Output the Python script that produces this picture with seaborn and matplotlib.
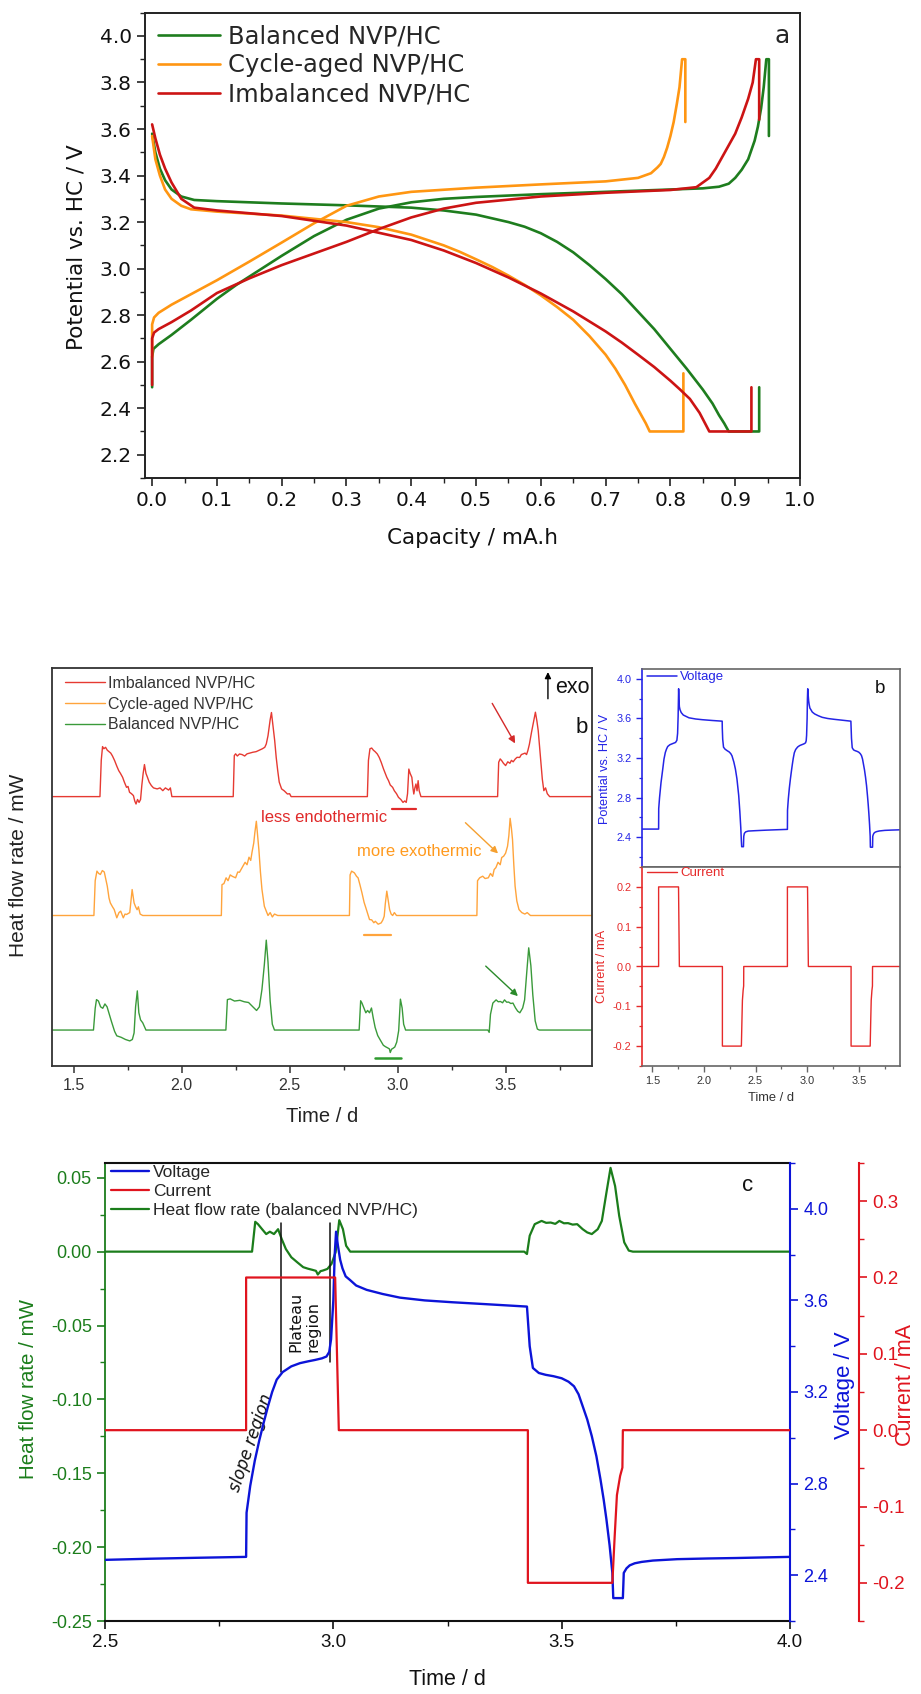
import matplotlib
matplotlib.use("Agg")
import matplotlib.pyplot as plt
from matplotlib.ticker import MultipleLocator, FixedLocator, FormatStrFormatter
import seaborn as sns

# ---------------------------------------------------------------- data
# (a) galvanostatic profiles: (capacity / mA.h, potential vs. HC / V)
balanced_charge = [(0.000, 2.49), (0.000, 2.62), (0.002, 2.655), (0.010, 2.675), (0.030, 2.715),
                   (0.060, 2.78), (0.100, 2.87), (0.130, 2.93), (0.200, 3.055), (0.250, 3.14),
                   (0.300, 3.21), (0.350, 3.258), (0.400, 3.285), (0.450, 3.300), (0.500, 3.308),
                   (0.600, 3.320), (0.700, 3.330), (0.800, 3.340), (0.850, 3.345), (0.875, 3.352),
                   (0.890, 3.365), (0.900, 3.39), (0.910, 3.425), (0.920, 3.47), (0.930, 3.55),
                   (0.935, 3.61), (0.940, 3.69), (0.944, 3.78), (0.948, 3.90), (0.952, 3.90),
                   (0.952, 3.57)]
balanced_discharge = [(0.000, 3.58), (0.005, 3.50), (0.012, 3.43), (0.020, 3.38), (0.030, 3.34),
                      (0.045, 3.31), (0.065, 3.295), (0.100, 3.29), (0.200, 3.28), (0.300, 3.272),
                      (0.400, 3.262), (0.450, 3.25), (0.500, 3.232), (0.550, 3.20), (0.575, 3.18),
                      (0.600, 3.152), (0.625, 3.115), (0.650, 3.07), (0.675, 3.015), (0.700, 2.955),
                      (0.725, 2.89), (0.750, 2.815), (0.775, 2.74), (0.800, 2.655), (0.825, 2.57),
                      (0.850, 2.48), (0.865, 2.42), (0.875, 2.37), (0.883, 2.335), (0.890, 2.30),
                      (0.937, 2.30), (0.937, 2.49)]
aged_charge = [(0.000, 2.62), (0.000, 2.76), (0.003, 2.79), (0.010, 2.81), (0.030, 2.845),
               (0.060, 2.89), (0.100, 2.95), (0.150, 3.03), (0.200, 3.112), (0.250, 3.195),
               (0.300, 3.27), (0.350, 3.31), (0.400, 3.33), (0.500, 3.348), (0.600, 3.362),
               (0.700, 3.375), (0.750, 3.39), (0.770, 3.41), (0.780, 3.435), (0.785, 3.45),
               (0.790, 3.48), (0.795, 3.52), (0.800, 3.57), (0.805, 3.63), (0.810, 3.71),
               (0.814, 3.78), (0.818, 3.90), (0.823, 3.90), (0.823, 3.63)]
aged_discharge = [(0.000, 3.57), (0.005, 3.47), (0.012, 3.40), (0.020, 3.34), (0.030, 3.30),
                  (0.045, 3.27), (0.060, 3.255), (0.100, 3.245), (0.200, 3.228), (0.300, 3.20),
                  (0.350, 3.178), (0.400, 3.146), (0.450, 3.10), (0.475, 3.072), (0.500, 3.04),
                  (0.525, 3.007), (0.550, 2.97), (0.575, 2.93), (0.600, 2.885), (0.625, 2.835),
                  (0.650, 2.78), (0.675, 2.71), (0.700, 2.63), (0.715, 2.57), (0.730, 2.50),
                  (0.745, 2.42), (0.755, 2.37), (0.762, 2.335), (0.768, 2.30), (0.820, 2.30),
                  (0.820, 2.55)]
imbal_charge = [(0.000, 2.50), (0.000, 2.70), (0.003, 2.725), (0.010, 2.74), (0.030, 2.77),
                (0.060, 2.82), (0.100, 2.895), (0.150, 2.958), (0.200, 3.015), (0.300, 3.115),
                (0.350, 3.17), (0.400, 3.22), (0.450, 3.258), (0.500, 3.283), (0.600, 3.31),
                (0.700, 3.326), (0.800, 3.338), (0.840, 3.35), (0.860, 3.39), (0.870, 3.43),
                (0.880, 3.48), (0.890, 3.53), (0.900, 3.58), (0.910, 3.65), (0.920, 3.73),
                (0.927, 3.80), (0.932, 3.90), (0.937, 3.90), (0.937, 3.64)]
imbal_discharge = [(0.000, 3.62), (0.005, 3.56), (0.012, 3.49), (0.020, 3.43), (0.030, 3.37),
                   (0.045, 3.30), (0.065, 3.262), (0.100, 3.25), (0.200, 3.226), (0.300, 3.185),
                   (0.400, 3.123), (0.450, 3.078), (0.500, 3.024), (0.550, 2.962), (0.600, 2.893),
                   (0.650, 2.816), (0.700, 2.73), (0.725, 2.682), (0.750, 2.63), (0.775, 2.577),
                   (0.800, 2.518), (0.815, 2.48), (0.830, 2.44), (0.845, 2.38), (0.860, 2.30),
                   (0.925, 2.30), (0.925, 2.49)]
cell_labels = ["Balanced NVP/HC", "Cycle-aged NVP/HC", "Imbalanced NVP/HC"]

# (b, c) heat flow rate / mW versus time / d
balanced_heat = [(1.400, 0.0), (1.592, 0.0), (1.600, 0.015), (1.606, 0.021), (1.615, 0.020),
                 (1.625, 0.016), (1.635, 0.015), (1.645, 0.018), (1.655, 0.016), (1.665, 0.011),
                 (1.675, 0.006), (1.690, -0.001), (1.700, -0.004), (1.720, -0.005), (1.740, -0.0065),
                 (1.760, -0.0075), (1.772, -0.0065), (1.780, -0.002), (1.787, 0.016), (1.795, 0.027),
                 (1.802, 0.012), (1.810, 0.007), (1.820, 0.005), (1.835, 0.0),
                 (2.205, 0.0), (2.212, 0.021), (2.225, 0.0215), (2.245, 0.020), (2.270, 0.0205),
                 (2.290, 0.0195), (2.310, 0.019), (2.330, 0.016), (2.347, 0.0135), (2.360, 0.016),
                 (2.372, 0.028), (2.383, 0.045), (2.392, 0.062), (2.400, 0.047), (2.410, 0.020),
                 (2.420, 0.004), (2.430, 0.0),
                 (2.822, 0.0), (2.829, 0.0202), (2.835, 0.0186), (2.844, 0.0152), (2.853, 0.0119),
                 (2.861, 0.0135), (2.870, 0.0119), (2.879, 0.0152), (2.887, 0.0085), (2.896, 0.0018),
                 (2.908, -0.0038), (2.921, -0.0072), (2.934, -0.0105), (2.944, -0.0115),
                 (2.954, -0.0123), (2.962, -0.0130), (2.966, -0.0155), (2.972, -0.0132),
                 (2.977, -0.0128), (2.987, -0.0117), (2.996, -0.0083), (3.005, -0.0004),
                 (3.013, 0.0213), (3.021, 0.0152), (3.028, 0.004), (3.037, 0.0),
                 (3.418, 0.0), (3.424, -0.0016), (3.430, 0.0108), (3.441, 0.0186), (3.456, 0.0208),
                 (3.466, 0.0195), (3.476, 0.0197), (3.486, 0.0188), (3.495, 0.0208), (3.505, 0.0192),
                 (3.514, 0.0193), (3.524, 0.0183), (3.534, 0.0186), (3.546, 0.0152), (3.556, 0.013),
                 (3.566, 0.0119), (3.579, 0.0152), (3.588, 0.0208), (3.598, 0.0399), (3.607, 0.0567),
                 (3.617, 0.0444), (3.626, 0.0242), (3.637, 0.0063), (3.647, 0.0007), (3.656, 0.0),
                 (4.000, 0.0)]
aged_heat = [(1.400, 0.0), (1.594, 0.0), (1.600, 0.024), (1.608, 0.0306), (1.616, 0.029),
             (1.624, 0.0283), (1.633, 0.031), (1.642, 0.030), (1.656, 0.0202), (1.664, 0.012),
             (1.670, 0.0087), (1.680, 0.006), (1.688, 0.0041), (1.700, -0.0016), (1.710, 0.002),
             (1.718, 0.003), (1.730, -0.0016), (1.738, 0.001), (1.745, 0.0007), (1.760, 0.002),
             (1.771, 0.0179), (1.780, 0.0087), (1.787, 0.006), (1.794, 0.004), (1.800, 0.006),
             (1.808, 0.001), (1.820, 0.0),
             (2.184, 0.0), (2.187, 0.0213), (2.196, 0.022), (2.206, 0.026), (2.215, 0.024),
             (2.225, 0.028), (2.235, 0.027), (2.250, 0.026), (2.260, 0.030), (2.268, 0.0298),
             (2.280, 0.033), (2.294, 0.0367), (2.303, 0.035), (2.312, 0.0402), (2.320, 0.038),
             (2.326, 0.0436), (2.334, 0.050), (2.339, 0.057), (2.346, 0.065), (2.352, 0.055),
             (2.358, 0.045), (2.365, 0.030), (2.372, 0.018), (2.383, 0.0064), (2.392, 0.003),
             (2.400, 0.0), (2.410, 0.002), (2.420, -0.001), (2.430, 0.001), (2.445, 0.0),
             (2.777, 0.0), (2.780, 0.028), (2.787, 0.0306), (2.800, 0.0294), (2.810, 0.027),
             (2.817, 0.026), (2.826, 0.021), (2.835, 0.0156), (2.845, 0.009), (2.853, 0.0053),
             (2.862, 0.001), (2.870, -0.0028), (2.880, -0.003), (2.890, -0.005), (2.897, -0.004),
             (2.910, -0.006), (2.924, -0.0051), (2.932, -0.003), (2.938, -0.0005), (2.943, 0.008),
             (2.950, 0.0168), (2.957, 0.010), (2.963, 0.0041), (2.970, 0.001), (2.977, 0.0),
             (2.985, 0.002), (2.995, 0.0),
             (3.367, 0.0), (3.370, 0.024), (3.380, 0.026), (3.394, 0.0271), (3.405, 0.0255),
             (3.420, 0.026), (3.430, 0.029), (3.440, 0.027), (3.447, 0.0317), (3.455, 0.033),
             (3.465, 0.0367), (3.475, 0.035), (3.482, 0.040), (3.491, 0.0409), (3.500, 0.043),
             (3.509, 0.0478), (3.515, 0.055), (3.521, 0.067), (3.527, 0.060), (3.532, 0.0524),
             (3.538, 0.035), (3.544, 0.0202), (3.552, 0.010), (3.562, 0.0041), (3.575, 0.002),
             (3.589, 0.001), (3.600, 0.002), (3.615, 0.0), (3.900, 0.0)]
imbal_heat = [(1.400, 0.0), (1.622, 0.0), (1.628, 0.025), (1.634, 0.0345), (1.640, 0.033),
              (1.648, 0.034), (1.656, 0.032), (1.664, 0.031), (1.672, 0.030), (1.680, 0.028),
              (1.690, 0.0248), (1.700, 0.021), (1.709, 0.0179), (1.717, 0.016), (1.727, 0.0133),
              (1.735, 0.010), (1.745, 0.0064), (1.752, 0.007), (1.759, 0.003), (1.768, 0.002),
              (1.777, 0.0007), (1.783, -0.003), (1.789, -0.0051), (1.796, -0.002), (1.803, -0.004),
              (1.810, -0.002), (1.816, 0.008), (1.822, 0.016), (1.828, 0.0221), (1.835, 0.016),
              (1.842, 0.0133), (1.850, 0.010), (1.860, 0.0076), (1.870, 0.006), (1.887, 0.0053),
              (1.900, 0.006), (1.913, 0.0041), (1.925, 0.006), (1.940, 0.0045), (1.948, 0.006),
              (1.955, 0.0),
              (2.239, 0.0), (2.244, 0.0283), (2.250, 0.0295), (2.258, 0.028), (2.268, 0.0294),
              (2.280, 0.029), (2.292, 0.028), (2.303, 0.0295), (2.315, 0.030), (2.330, 0.0306),
              (2.345, 0.031), (2.360, 0.032), (2.374, 0.033), (2.385, 0.034), (2.392, 0.0363),
              (2.400, 0.042), (2.405, 0.0478), (2.410, 0.053), (2.416, 0.058), (2.422, 0.050),
              (2.431, 0.0386), (2.438, 0.027), (2.445, 0.0179), (2.452, 0.010), (2.463, 0.0053),
              (2.475, 0.004), (2.490, 0.0018), (2.500, 0.002), (2.507, 0.0),
              (2.860, 0.0), (2.865, 0.025), (2.872, 0.033), (2.880, 0.0335), (2.888, 0.032),
              (2.896, 0.031), (2.906, 0.0294), (2.915, 0.027), (2.924, 0.0237), (2.935, 0.019),
              (2.943, 0.016), (2.950, 0.0133), (2.958, 0.011), (2.966, 0.008), (2.977, 0.0064),
              (2.985, 0.004), (2.995, 0.002), (3.004, -0.0005), (3.015, -0.002), (3.025, -0.004),
              (3.033, -0.003), (3.040, -0.004), (3.046, 0.002), (3.052, 0.019), (3.058, 0.016),
              (3.066, 0.0133), (3.071, 0.006), (3.075, 0.0018), (3.080, 0.006), (3.085, 0.0087),
              (3.090, 0.004), (3.095, 0.011), (3.100, 0.004), (3.108, 0.0),
              (3.463, 0.0), (3.468, 0.0237), (3.475, 0.026), (3.482, 0.0248), (3.490, 0.023),
              (3.500, 0.0214), (3.510, 0.024), (3.520, 0.023), (3.527, 0.025), (3.535, 0.024),
              (3.545, 0.026), (3.553, 0.0271), (3.565, 0.027), (3.573, 0.029), (3.580, 0.0294),
              (3.590, 0.030), (3.597, 0.029), (3.603, 0.0317), (3.610, 0.036), (3.620, 0.0444),
              (3.630, 0.052), (3.638, 0.0582), (3.645, 0.052), (3.651, 0.0455), (3.657, 0.035),
              (3.663, 0.0248), (3.670, 0.012), (3.677, 0.0041), (3.685, 0.006), (3.693, 0.002),
              (3.704, 0.0), (3.900, 0.0)]
stack_offset = {"balanced": 0.0, "aged": 0.079, "imbal": 0.161}   # vertical stacking / mW

# cell voltage / V and current / mA versus time / d
cell_voltage = [(1.400, 2.483), (1.561, 2.483), (1.562, 2.69), (1.570, 2.80), (1.584, 2.95),
                (1.600, 3.08), (1.613, 3.19), (1.626, 3.257), (1.637, 3.29), (1.649, 3.317),
                (1.670, 3.335), (1.698, 3.347), (1.725, 3.358), (1.738, 3.38), (1.745, 3.45),
                (1.750, 3.62), (1.755, 3.90), (1.758, 3.80), (1.762, 3.72), (1.768, 3.69),
                (1.780, 3.66), (1.800, 3.635), (1.855, 3.607), (1.920, 3.595), (1.984, 3.588),
                (2.080, 3.58), (2.177, 3.573), (2.178, 3.50), (2.182, 3.39), (2.190, 3.31),
                (2.205, 3.29), (2.225, 3.275), (2.245, 3.262), (2.260, 3.245), (2.272, 3.223),
                (2.290, 3.16), (2.305, 3.09), (2.320, 2.99), (2.337, 2.823), (2.348, 2.66),
                (2.357, 2.50), (2.363, 2.36), (2.366, 2.305), (2.383, 2.305), (2.386, 2.41),
                (2.392, 2.44), (2.405, 2.455), (2.430, 2.463), (2.500, 2.467), (2.600, 2.472),
                (2.700, 2.476), (2.809, 2.48), (2.810, 2.673), (2.818, 2.79), (2.828, 2.90),
                (2.838, 2.99), (2.848, 3.07), (2.857, 3.138), (2.866, 3.20), (2.876, 3.254),
                (2.889, 3.287), (2.908, 3.312), (2.927, 3.326), (2.945, 3.334), (2.960, 3.340),
                (2.975, 3.347), (2.985, 3.355), (2.991, 3.375), (2.995, 3.43), (3.000, 3.60),
                (3.003, 3.80), (3.006, 3.90), (3.010, 3.84), (3.015, 3.777), (3.020, 3.74),
                (3.027, 3.705), (3.036, 3.69), (3.050, 3.665), (3.073, 3.646), (3.108, 3.628),
                (3.146, 3.612), (3.200, 3.600), (3.260, 3.592), (3.330, 3.584), (3.424, 3.573),
                (3.426, 3.516), (3.430, 3.40), (3.437, 3.305), (3.450, 3.283), (3.465, 3.275),
                (3.482, 3.269), (3.500, 3.26), (3.515, 3.245), (3.527, 3.225), (3.537, 3.19),
                (3.546, 3.138), (3.556, 3.08), (3.566, 3.007), (3.576, 2.92), (3.585, 2.818),
                (3.592, 2.73), (3.598, 2.644), (3.605, 2.53), (3.611, 2.41), (3.613, 2.30),
                (3.634, 2.30), (3.636, 2.41), (3.642, 2.43), (3.649, 2.443), (3.660, 2.452),
                (3.675, 2.458), (3.700, 2.464), (3.753, 2.47), (3.820, 2.473), (3.881, 2.475),
                (4.000, 2.48)]
cell_current = [(1.400, 0.0), (1.561, 0.0), (1.561, 0.2), (1.754, 0.2), (1.758, 0.1), (1.762, 0.0),
                (2.179, 0.0), (2.179, -0.2), (2.363, -0.2), (2.368, -0.14), (2.373, -0.085),
                (2.380, -0.06), (2.385, -0.049), (2.386, 0.0), (2.809, 0.0), (2.809, 0.2),
                (3.004, 0.2), (3.008, 0.1), (3.012, 0.0), (3.426, 0.0), (3.426, -0.2),
                (3.611, -0.2), (3.616, -0.14), (3.621, -0.085), (3.628, -0.06), (3.633, -0.049),
                (3.634, 0.0), (4.000, 0.0)]

# ---------------------------------------------------------------- style
sns.set_theme(style="ticks")
plt.rcParams["font.family"] = ["Liberation Sans", "DejaVu Sans"]
plt.rcParams["axes.unicode_minus"] = False

W, H = 921, 1694
fig = plt.figure(figsize=(W / 100, H / 100), dpi=100)


def box(left, top, right, bottom):
    return [left / W, 1 - bottom / H, (right - left) / W, (bottom - top) / H]


def trace(ax, pts, color, lw, offset=0.0, zorder=2):
    xs = [p[0] for p in pts]
    ys = [p[1] + offset for p in pts]
    sns.lineplot(x=xs, y=ys, ax=ax, color=color, linewidth=lw, sort=False,
                 estimator=None, zorder=zorder)
    return ax.lines[-1]


# ---------------------------------------------------------------- (a)
ax_a = fig.add_axes(box(145, 12.7, 800, 478))
col_a = {"balanced": "#1e7d1e", "aged": "#ff9612", "imbal": "#cc1414"}
h_bal = trace(ax_a, balanced_charge, col_a["balanced"], 1.9)
trace(ax_a, balanced_discharge, col_a["balanced"], 1.9)
h_aged = trace(ax_a, aged_charge, col_a["aged"], 1.9)
trace(ax_a, aged_discharge, col_a["aged"], 1.9)
h_imb = trace(ax_a, imbal_charge, col_a["imbal"], 1.9)
trace(ax_a, imbal_discharge, col_a["imbal"], 1.9)

ax_a.set_xlim(-0.011, 1.0)
ax_a.set_ylim(2.1, 4.1)
ax_a.xaxis.set_major_locator(FixedLocator([i / 10 for i in range(11)]))
ax_a.xaxis.set_minor_locator(MultipleLocator(0.05))
ax_a.yaxis.set_major_locator(FixedLocator([2.2 + 0.2 * i for i in range(10)]))
ax_a.yaxis.set_minor_locator(MultipleLocator(0.1))
ax_a.xaxis.set_major_formatter(FormatStrFormatter("%.1f"))
ax_a.yaxis.set_major_formatter(FormatStrFormatter("%.1f"))
for s in ax_a.spines.values():
    s.set_color("#222222")
    s.set_linewidth(1.4)
ax_a.tick_params(which="major", length=6, width=1.2, color="#222222",
                 labelsize=14.5, labelfontfamily="DejaVu Sans", labelcolor="#111111")
ax_a.tick_params(which="minor", length=3.5, width=1.0, color="#222222")
ax_a.set_xlabel("Capacity / mA.h", fontsize=15.5, family="DejaVu Sans", color="#111111")
ax_a.set_ylabel("Potential vs. HC / V", fontsize=15.5, family="DejaVu Sans", color="#111111")
ax_a.xaxis.set_label_coords(0.5, -0.108)
ax_a.yaxis.set_label_coords(-0.089, 0.496)
ax_a.legend([h_bal, h_aged, h_imb], cell_labels, loc="upper left",
            bbox_to_anchor=(0.0198, 0.975), frameon=False, borderpad=0, borderaxespad=0,
            handlelength=2.55, handletextpad=0.33, labelspacing=0.2,
            prop=dict(family="DejaVu Sans", size=17.5))
ax_a.text(0.972, 4.0, "a", fontsize=18, family="DejaVu Sans", ha="center", va="center")

# ---------------------------------------------------------------- (b) heat flow
ax_b = fig.add_axes(box(52, 668, 592, 1066))
col_b = {"balanced": "#3a9a3a", "aged": "#ffa43c", "imbal": "#e63a32"}
hb_imb = trace(ax_b, imbal_heat, col_b["imbal"], 1.0, stack_offset["imbal"])
hb_aged = trace(ax_b, aged_heat, col_b["aged"], 1.0, stack_offset["aged"])
hb_bal = trace(ax_b, balanced_heat, col_b["balanced"], 1.0, stack_offset["balanced"])
ax_b.set_xlim(1.4, 3.9)
ax_b.set_ylim(-0.0248, 0.2497)
ax_b.set_yticks([])
ax_b.xaxis.set_major_locator(FixedLocator([1.5, 2.0, 2.5, 3.0, 3.5]))
ax_b.xaxis.set_minor_locator(MultipleLocator(0.25))
ax_b.xaxis.set_major_formatter(FormatStrFormatter("%.1f"))
for s in ax_b.spines.values():
    s.set_color("#333333")
    s.set_linewidth(1.3)
ax_b.tick_params(axis="x", which="major", length=5, width=1.1, color="#333333",
                 labelsize=11.5, labelcolor="#333333")
ax_b.tick_params(axis="x", which="minor", length=3, width=1.0, color="#333333")
ax_b.set_xlabel("Time / d", fontsize=14.5, color="#222222")
ax_b.set_ylabel("Heat flow rate / mW", fontsize=15, color="#222222")
ax_b.xaxis.set_label_coords(0.5, -0.103)
ax_b.yaxis.set_label_coords(-0.044, 0.504)
ax_b.legend([hb_imb, hb_aged, hb_bal], ["Imbalanced NVP/HC", "Cycle-aged NVP/HC", "Balanced NVP/HC"],
            loc="upper left", bbox_to_anchor=(0.024, 0.98), frameon=False, borderpad=0,
            borderaxespad=0, handlelength=2.5, handletextpad=0.2, labelspacing=0.35,
            prop=dict(size=11.5), labelcolor="#333333")

arrow = dict(arrowstyle="-|>", lw=1.0, mutation_scale=10, shrinkA=0, shrinkB=0)
ax_b.annotate("", xy=(3.696, 0.2469), xytext=(3.696, 0.2285),
              arrowprops=dict(arrow, color="black", mutation_scale=9))
ax_b.text(3.727, 0.2365, "exo", fontsize=15.5, ha="left", va="center", color="#111111")
ax_b.text(3.853, 0.209, "b", fontsize=16, ha="center", va="center", color="#111111")
ax_b.annotate("", xy=(3.544, 0.1977), xytext=(3.438, 0.2253),
              arrowprops=dict(arrow, color="#d42a2a"))
ax_b.text(2.658, 0.1464, "less endothermic", fontsize=12, color="#e02a2a", ha="center", va="center")
ax_b.plot([2.972, 3.087], [0.1524, 0.1524], color="#e02a2a", lw=1.6)
ax_b.annotate("", xy=(3.465, 0.1218), xytext=(3.314, 0.143),
              arrowprops=dict(arrow, color="#f5a030"))
ax_b.text(3.101, 0.1234, "more exothermic", fontsize=12, color="#ff9a1e", ha="center", va="center")
ax_b.plot([2.844, 2.968], [0.0655, 0.0655], color="#ffa43c", lw=1.6)
ax_b.annotate("", xy=(3.557, 0.0234), xytext=(3.408, 0.0441),
              arrowprops=dict(arrow, color="#2a8a2a"))
ax_b.plot([2.897, 3.018], [-0.0195, -0.0195], color="#2e9a2e", lw=1.8)

# ---------------------------------------------------------------- (b) voltage and current
blue_b, red_b, frame_b = "#2424e6", "#e62a2a", "#666666"
ax_bv = fig.add_axes(box(642, 669, 900, 867))
ax_bi = fig.add_axes(box(642, 867, 900, 1066))
hv = trace(ax_bv, cell_voltage, blue_b, 1.1)
hi = trace(ax_bi, cell_current, red_b, 1.0)
for ax in (ax_bv, ax_bi):
    ax.set_xlim(1.4, 3.9)
    for s in ax.spines.values():
        s.set_color(frame_b)
        s.set_linewidth(1.2)
ax_bv.spines["left"].set_color(blue_b)
ax_bi.spines["left"].set_color(red_b)
ax_bv.set_ylim(2.1, 4.1)
ax_bv.yaxis.set_major_locator(FixedLocator([2.4, 2.8, 3.2, 3.6, 4.0]))
ax_bv.yaxis.set_minor_locator(MultipleLocator(0.2))
ax_bv.yaxis.set_major_formatter(FormatStrFormatter("%.1f"))
ax_bv.tick_params(axis="x", which="both", bottom=False, labelbottom=False)
ax_bv.tick_params(axis="y", which="major", length=4, width=1.0, colors=blue_b, labelsize=7.8)
ax_bv.tick_params(axis="y", which="minor", length=2.5, width=0.9, colors=blue_b)
ax_bv.set_ylabel("Potential vs. HC / V", fontsize=9.2, color=blue_b)
ax_bv.yaxis.set_label_coords(-0.12, 0.495)
ax_bv.legend([hv], ["Voltage"], loc="upper left", bbox_to_anchor=(0.019, 0.99), frameon=False,
             borderpad=0, borderaxespad=0, handlelength=2.3, handletextpad=0.23,
             prop=dict(size=9.5), labelcolor=blue_b)
ax_bv.text(3.706, 3.90, "b", fontsize=13.5, ha="center", va="center", color="#111111")

ax_bi.set_ylim(-0.25, 0.25)
ax_bi.yaxis.set_major_locator(FixedLocator([-0.2, -0.1, 0.0, 0.1, 0.2]))
ax_bi.yaxis.set_minor_locator(MultipleLocator(0.05))
ax_bi.yaxis.set_major_formatter(FormatStrFormatter("%.1f"))
ax_bi.xaxis.set_major_locator(FixedLocator([1.5, 2.0, 2.5, 3.0, 3.5]))
ax_bi.xaxis.set_minor_locator(MultipleLocator(0.25))
ax_bi.xaxis.set_major_formatter(FormatStrFormatter("%.1f"))
ax_bi.tick_params(axis="y", which="major", length=4, width=1.0, colors=red_b, labelsize=7.8)
ax_bi.tick_params(axis="y", which="minor", length=2.5, width=0.9, colors=red_b)
ax_bi.tick_params(axis="x", which="major", length=4, width=1.0, color=frame_b,
                  labelsize=7.8, labelcolor="#333333")
ax_bi.tick_params(axis="x", which="minor", length=2.5, width=0.9, color=frame_b)
ax_bi.set_ylabel("Current / mA", fontsize=9.3, color=red_b)
ax_bi.yaxis.set_label_coords(-0.132, 0.50)
ax_bi.set_xlabel("Time / d", fontsize=9.3, color="#333333")
ax_bi.xaxis.set_label_coords(0.5, -0.13)
ax_bi.legend([hi], ["Current"], loc="upper left", bbox_to_anchor=(0.019, 1.0), frameon=False,
             borderpad=0, borderaxespad=0, handlelength=2.3, handletextpad=0.23,
             prop=dict(size=9.5), labelcolor=red_b)

# ---------------------------------------------------------------- (c)
green_c, blue_c, red_c = "#1b7d1b", "#0c14d8", "#e0141e"
ax_c = fig.add_axes(box(105, 1163, 790, 1621))
ax_cv = ax_c.twinx()
ax_ci = ax_c.twinx()
hc_heat = trace(ax_c, balanced_heat, green_c, 1.6)
hc_v = trace(ax_cv, cell_voltage, blue_c, 1.7)
hc_i = trace(ax_ci, cell_current, red_c, 1.6)

ax_c.set_xlim(2.5, 4.0)
ax_c.set_ylim(-0.25, 0.06)
ax_cv.set_ylim(2.2, 4.2)
ax_ci.set_ylim(-0.25, 0.35)
ax_ci.spines["right"].set_position(("axes", 1 + 69 / 685))

for s in ("top", "bottom"):
    ax_c.spines[s].set_color("#111111")
    ax_c.spines[s].set_linewidth(1.5)
ax_c.spines["left"].set_color(green_c)
ax_c.spines["left"].set_linewidth(1.3)
ax_c.spines["right"].set_visible(False)
for ax in (ax_cv, ax_ci):
    for s in ("left", "top", "bottom"):
        ax.spines[s].set_visible(False)
ax_cv.spines["right"].set_color(blue_c)
ax_cv.spines["right"].set_linewidth(1.5)
ax_ci.spines["right"].set_color(red_c)
ax_ci.spines["right"].set_linewidth(1.5)

ax_c.xaxis.set_major_locator(FixedLocator([2.5, 3.0, 3.5, 4.0]))
ax_c.xaxis.set_minor_locator(MultipleLocator(0.25))
ax_c.xaxis.set_major_formatter(FormatStrFormatter("%.1f"))
ax_c.yaxis.set_major_locator(FixedLocator([-0.25, -0.20, -0.15, -0.10, -0.05, 0.0, 0.05]))
ax_c.yaxis.set_minor_locator(MultipleLocator(0.025))
ax_c.yaxis.set_major_formatter(FormatStrFormatter("%.2f"))
ax_cv.yaxis.set_major_locator(FixedLocator([2.4, 2.8, 3.2, 3.6, 4.0]))
ax_cv.yaxis.set_minor_locator(MultipleLocator(0.2))
ax_cv.yaxis.set_major_formatter(FormatStrFormatter("%.1f"))
ax_ci.yaxis.set_major_locator(FixedLocator([-0.2, -0.1, 0.0, 0.1, 0.2, 0.3]))
ax_ci.yaxis.set_minor_locator(MultipleLocator(0.05))
ax_ci.yaxis.set_major_formatter(FormatStrFormatter("%.1f"))

ax_c.tick_params(axis="x", which="major", length=6, width=1.2, color="#111111",
                 labelsize=13.5, labelcolor="#111111")
ax_c.tick_params(axis="x", which="minor", length=3.5, width=1.0, color="#111111")
ax_c.tick_params(axis="y", which="major", length=6, width=1.2, colors=green_c, labelsize=13)
ax_c.tick_params(axis="y", which="minor", length=3.5, width=1.0, colors=green_c)
ax_cv.tick_params(axis="y", which="major", length=6, width=1.2, colors=blue_c, labelsize=13)
ax_cv.tick_params(axis="y", which="minor", length=3.5, width=1.0, colors=blue_c)
ax_ci.tick_params(axis="y", which="major", length=6, width=1.2, colors=red_c, labelsize=13.5)
ax_ci.tick_params(axis="y", which="minor", length=3.5, width=1.0, colors=red_c)

ax_c.set_xlabel("Time / d", fontsize=15.5, color="#111111")
ax_c.xaxis.set_label_coords(0.5, -0.104)
ax_c.set_ylabel("Heat flow rate / mW", fontsize=14.8, color=green_c)
ax_c.yaxis.set_label_coords(-0.098, 0.507)
ax_cv.set_ylabel("Voltage / V", fontsize=16, color=blue_c)
ax_cv.yaxis.set_label_coords(1.064, 0.515)
ax_ci.set_ylabel("Current / mA", fontsize=15.5, color=red_c)
ax_ci.yaxis.set_label_coords(1.154, 0.515)

ax_ci.legend([hc_v, hc_i, hc_heat], ["Voltage", "Current", "Heat flow rate (balanced NVP/HC)"],
             loc="upper left", bbox_to_anchor=(0.0088, 0.995), frameon=False, borderpad=0,
             borderaxespad=0, handlelength=2.2, handletextpad=0.23, labelspacing=0.2,
             prop=dict(size=12.5))

# charge-step regions marked on the heat-flow trace
ax_c.plot([2.885, 2.885], [0.0195, -0.0816], color="#111111", lw=1.1, zorder=5)
ax_c.plot([2.993, 2.993], [0.0195, -0.0749], color="#111111", lw=1.1, zorder=5)
ax_c.text(2.821, -0.1294, "slope region", fontsize=12, family="DejaVu Sans", style="italic",
          rotation=71, ha="center", va="center", color="#111111", zorder=6)
ax_c.text(2.936, -0.0472, "Plateau\nregion", fontsize=11.5, family="DejaVu Sans", rotation=90,
          ha="center", va="center", multialignment="left", linespacing=1.15,
          color="#111111", zorder=6)
ax_c.text(3.908, 0.0446, "c", fontsize=16, ha="center", va="center", color="#111111")

fig.savefig("out.png", dpi=100)
